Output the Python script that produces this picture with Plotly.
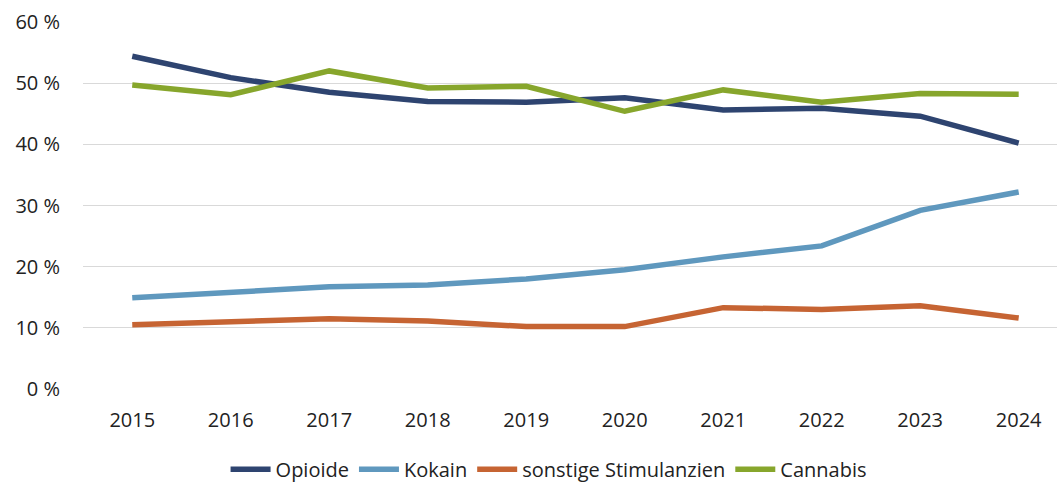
import plotly.graph_objects as go

years = ["2015", "2016", "2017", "2018", "2019", "2020", "2021", "2022", "2023", "2024"]
opioide = [54.4, 50.9, 48.5, 47.0, 46.9, 47.6, 45.6, 45.9, 44.6, 40.2]
kokain = [14.9, 15.9, 16.7, 17.0, 18.0, 19.5, 21.6, 23.4, 29.2, 32.2]
sonstige = [10.5, 11.1, 11.5, 11.1, 10.2, 10.2, 13.3, 13.0, 13.6, 11.6]
cannabis = [49.7, 48.1, 52.0, 49.2, 49.5, 45.4, 48.9, 46.9, 48.3, 48.2]
y_ticks = [0, 10, 20, 30, 40, 50, 60]
y_labels = [f"{v} %" for v in y_ticks]

series = [
    ("Opioide", opioide, "#2e4470"),
    ("Kokain", kokain, "#5f98be"),
    ("sonstige Stimulanzien", sonstige, "#c66433"),
    ("Cannabis", cannabis, "#87a62c"),
]

fig = go.Figure()
for name, vals, col in series:
    fig.add_trace(go.Scatter(
        x=list(range(len(years))), y=vals, name=name, mode="lines",
        line=dict(color=col, width=5.5),
    ))

font_fam = "Open Sans, Segoe UI, sans-serif"
fig.update_layout(
    width=1057, height=489,
    margin=dict(l=83, r=0, t=22, b=100, autoexpand=False),
    paper_bgcolor="white", plot_bgcolor="white",
    font=dict(family=font_fam, size=20, color="#222222"),
    showlegend=True,
    legend=dict(orientation="h", x=0.478, xanchor="center", y=-0.272, yanchor="bottom",
                font=dict(family=font_fam, size=20, color="#222222"),
                itemwidth=40),
)
fig.update_xaxes(
    range=[-0.5, 9.389], tickmode="array", tickvals=list(range(len(years))), ticktext=years,
    showgrid=False, zeroline=False, showline=False, ticks="", ticklabelstandoff=17,
    automargin=False,
)
fig.update_yaxes(
    range=[0, 60], tickmode="array", tickvals=y_ticks, ticktext=y_labels,
    showgrid=True, gridcolor="#d9d9d9", gridwidth=1, zeroline=False, showline=False,
    ticks="", ticklabelstandoff=22, automargin=False,
)
fig.write_html("out.html", config={"displayModeBar": False},
               post_script="document.body.style.margin='0';document.body.style.overflow='hidden';")
